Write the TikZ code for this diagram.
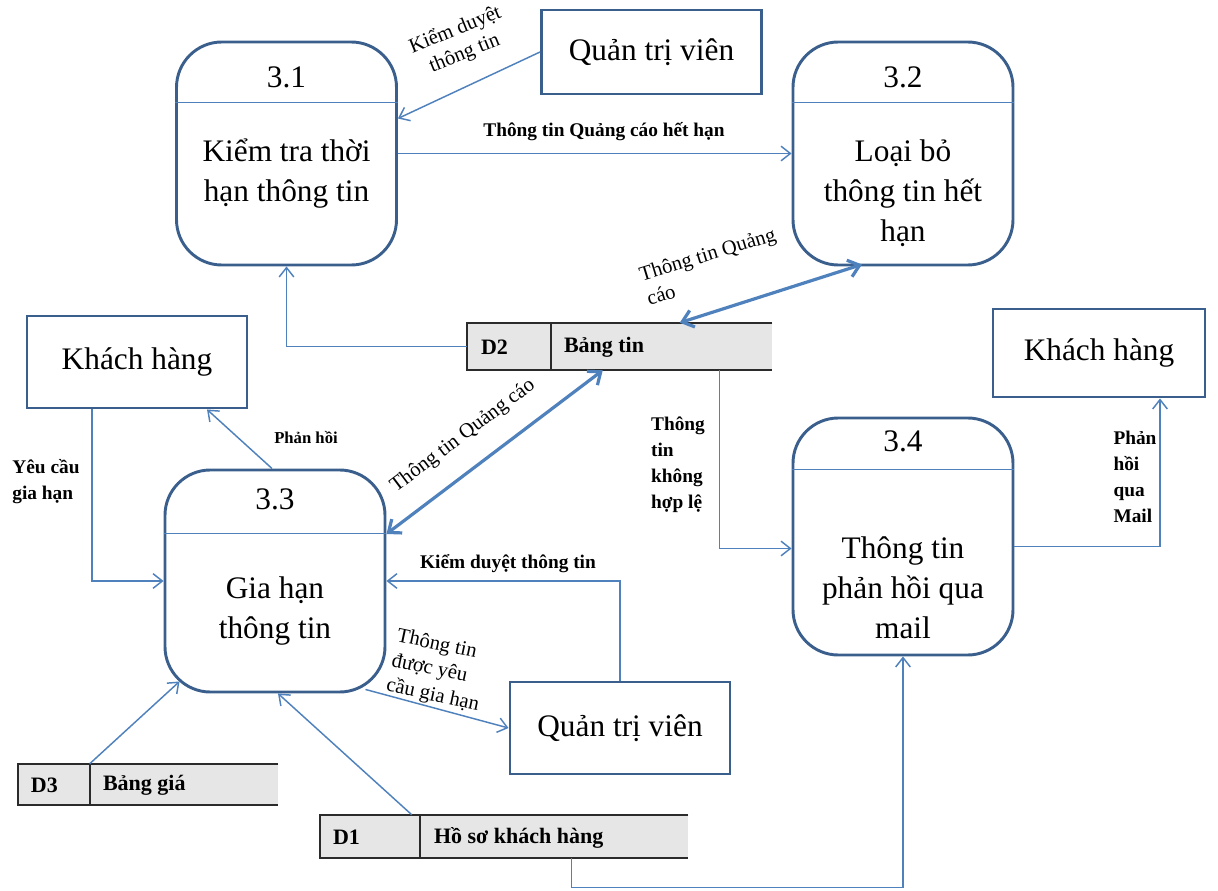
\documentclass[tikz,border=0pt]{standalone}
\usepackage{fontspec}
\setmainfont{Liberation Serif}
\usetikzlibrary{arrows.meta,calc}
\definecolor{flow}{HTML}{4F81BD}
\definecolor{boxedge}{HTML}{3A5F8C}
\definecolor{storefill}{HTML}{E6E6E6}
\definecolor{storeline}{HTML}{2B2B2B}
\tikzset{
  proc/.style={draw=boxedge, line width=2.2pt, rounded corners=34pt, inner sep=0pt, minimum width=165pt},
  ext/.style={draw=boxedge, line width=2.2pt, inner sep=0pt, minimum width=165pt, font=\fontsize{23.5}{28}\selectfont},
  store/.style={fill=storefill, draw=none, inner sep=0pt},
  storeedge/.style={draw=storeline, line width=1.3pt},
  bigtext/.style={align=center, font=\fontsize{23.5}{30}\selectfont, inner sep=0pt},
  headline/.style={draw=flow, line width=0.8pt},
  flowline/.style={draw=flow, line width=1.1pt, -{Straight Barb[length=7pt,width=11pt,line width=1.1pt]}},
  bothway/.style={draw=flow, line width=2.4pt, {Straight Barb[length=8pt,width=13pt,line width=2.4pt]}-{Straight Barb[length=8pt,width=13pt,line width=2.4pt]}},
  boldlbl/.style={font=\fontsize{14.5}{19.5}\selectfont\bfseries, inner sep=0pt},
  plainlbl/.style={font=\fontsize{15.5}{19}\selectfont, inner sep=0pt},
  storetext/.style={font=\fontsize{16.5}{18}\selectfont\bfseries, inner sep=0pt, anchor=west},
}
\begin{document}
\begin{tikzpicture}[x=0.75pt,y=-0.75pt]
\useasboundingbox (0,0) rectangle (1218,891);

% processes
\node[proc, minimum height=167.25pt] (p31) at (286.5,153.5) {};
\node[proc, minimum height=167.25pt] (p32) at (903,153.5) {};
\node[proc, minimum height=166.5pt] (p33) at (275,581) {};
\node[proc, minimum height=177.75pt] (p34) at (903,536.5) {};
\draw[headline] ($(p31.north west)+(0,62)$) -- ($(p31.north east)+(0,62)$);
\draw[headline] ($(p32.north west)+(0,62)$) -- ($(p32.north east)+(0,62)$);
\draw[headline] ($(p33.north west)+(0,65)$) -- ($(p33.north east)+(0,65)$);
\draw[headline] ($(p34.north west)+(0,53)$) -- ($(p34.north east)+(0,53)$);
\node[bigtext] (p31id) at ($(p31.north)+(0,37)$) {3.1};
\node[bigtext] (p32id) at ($(p32.north)+(0,37)$) {3.2};
\node[bigtext] (p33id) at ($(p33.north)+(0,31)$) {3.3};
\node[bigtext] (p34id) at ($(p34.north)+(0,25)$) {3.4};
\node[bigtext] (p31txt) at (286.5,174) {Kiểm tra thời\\hạn thông tin};
\node[bigtext] (p32txt) at (903,193) {Loại bỏ\\thông tin hết\\hạn};
\node[bigtext] (p33txt) at (275,611) {Gia hạn\\thông tin};
\node[bigtext] (p34txt) at (903,588) {Thông tin\\phản hồi qua\\mail};

% external entities
\node[ext, minimum height=63pt] (qtv1) at (651.5,52) {Quản trị viên};
\node[ext, minimum height=69pt] (kh1) at (137,362) {Khách hàng};
\node[ext, minimum width=159pt, minimum height=66pt] (kh2) at (1099,353) {Khách hàng};
\node[ext, minimum height=69pt] (qtv2) at (620,728) {Quản trị viên};

% data stores
\node[store, minimum width=228.75pt, minimum height=35.25pt] (d2) at (619.5,346.5) {};
\node[store, minimum width=195pt, minimum height=30.75pt] (d3) at (148,784.5) {};
\node[store, minimum width=276pt, minimum height=32.25pt] (d1) at (504,836.5) {};
\draw[storeedge] (d2.north east) -- (d2.north west) -- (d2.south west) -- (d2.south east);
\draw[storeedge] ($(d2.north west)+(84,0)$) -- ($(d2.south west)+(84,0)$);
\draw[storeedge] (d3.north east) -- (d3.north west) -- (d3.south west) -- (d3.south east);
\draw[storeedge] ($(d3.north west)+(72,0)$) -- ($(d3.south west)+(72,0)$);
\draw[storeedge] (d1.north east) -- (d1.north west) -- (d1.south west) -- (d1.south east);
\draw[storeedge] ($(d1.north west)+(100,0)$) -- ($(d1.south west)+(100,0)$);
\node[storetext] (d2id) at ($(d2.west)+(14,1)$) {D2};
\node[storetext] (d2name) at ($(d2.west)+(97,1)$) {Bảng tin};
\node[storetext] (d3id) at ($(d3.west)+(13,1)$) {D3};
\node[storetext] (d3name) at ($(d3.west)+(85,1)$) {Bảng giá};
\node[storetext] (d1id) at ($(d1.west)+(13,1)$) {D1};
\node[storetext] (d1name) at ($(d1.west)+(114,1)$) {Hồ sơ khách hàng};

% flows
\draw[flowline] (qtv1.west) -- ($(p31.east)+(0,-35)$);
\draw[flowline] (p31.east) -- (p32.west);
\draw[flowline] (d2.west) -| (p31.south);
\draw[bothway] ($(d2.north west)+(213,0)$) -- ($(p32.south)+(-41,-2)$);
\draw[flowline] ($(p33.north)+(-3,0)$) -- ($(kh1.south)+(70,0)$);
\draw[flowline] ($(kh1.south)+(-45,0)$) |- (p33.west);
\draw[bothway] ($(d2.south west)+(136,0)$) -- ($(p33.east)+(0,-47)$);
\draw[flowline] ($(d2.south west)+(253,0)$) |- ($(p34.west)+(0,12)$);
\draw[flowline] ($(p34.east)+(0,10)$) -| ($(kh2.south)+(61,0)$);
\draw[flowline] (qtv2.north) |- (p33.east);
\draw[flowline] ($(p33.south east)+(-21,-4)$) -- (qtv2.west);
\draw[flowline] ($(d3.north west)+(72,0)$) -- ($(p33.south west)+(16,-12)$);
\draw[flowline] ($(d1.north west)+(92,0)$) -- ($(p33.south)+(3,0)$);
\draw[flowline] ($(d1.south west)+(252,0)$) -- ++(0,29) -| (p34.south);

% flow labels
\node[plainlbl, rotate=22, align=center] (l1) at (460,42) {Kiểm duyệt\\thông tin};
\node[boldlbl] (l2) at (604,132) {Thông tin Quảng cáo hết hạn};
\node[plainlbl, rotate=17, align=left] (l3) at (711,266) {Thông tin Quảng\\cáo};
\node[boldlbl, font=\fontsize{12.5}{15}\selectfont\bfseries] (l4) at (306,438) {Phản hồi};
\node[boldlbl, align=left] (l5) at (46,482) {Yêu cầu\\gia hạn};
\node[plainlbl, rotate=37] (l6) at (463,436) {Thông tin Quảng cáo};
\node[boldlbl, align=left] (l7) at (678,465) {Thông\\tin\\không\\hợp lệ};
\node[boldlbl, align=left] (l8) at (1135,477) {Phản\\hồi\\qua\\Mail};
\node[boldlbl] (l9) at (508,564) {Kiểm duyệt thông tin};
\node[plainlbl, rotate=-12, align=left] (l10) at (438,671) {Thông tin\\được yêu\\cầu gia hạn};
\end{tikzpicture}
\end{document}
